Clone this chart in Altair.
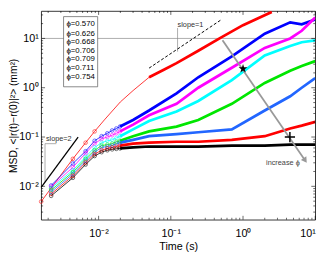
import altair as alt
import pandas as pd

# ---------------- data ----------------
T = [0.0022, 0.0044, 0.0066, 0.0088, 0.011, 0.0132, 0.0154, 0.0176, 0.0198,
     0.03, 0.05, 0.12, 0.24, 0.7, 2, 4.5, 6.5, 10]
T_TOP = [0.0016, 0.0022, 0.0044, 0.0066, 0.0088, 0.012, 0.02, 0.03, 0.05,
         0.08, 0.12, 0.24, 0.5, 1, 2.5]

MSD_RED_TOP = [0.0049, 0.0092, 0.0361, 0.0767, 0.130, 0.222, 0.515, 0.876, 1.63,
               2.32, 3.16, 5.62, 10.5, 18.6, 34.5]
MSD_BLUE = [0.0104, 0.029, 0.0515, 0.0838, 0.104, 0.119, 0.136, 0.149, 0.163,
            0.222, 0.345, 0.767, 1.63, 4.31, 12.5, 21.2, 19.4, 24.3]
MSD_MAGENTA = [0.0098, 0.0243, 0.0471, 0.0733, 0.0916, 0.100, 0.109, 0.119, 0.130,
               0.178, 0.277, 0.471, 1.0, 2.54, 6.42, 10.0, 14.3, 26.5]
MSD_CYAN = [0.0092, 0.0212, 0.0394, 0.0614, 0.0767, 0.0838, 0.0876, 0.0957, 0.104,
            0.143, 0.212, 0.330, 0.538, 1.43, 4.51, 7.02, 8.38, 9.15]
MSD_GREEN = [0.0084, 0.0194, 0.0361, 0.0538, 0.0671, 0.0701, 0.0733, 0.0802, 0.0838,
             0.104, 0.130, 0.163, 0.222, 0.471, 1.25, 2.22, 2.77, 3.46]
MSD_LBLUE = [0.0077, 0.0178, 0.0330, 0.0493, 0.0614, 0.0642, 0.0671, 0.0733, 0.0767,
             0.0876, 0.104, 0.114, 0.125, 0.143, 0.345, 0.672, 1.0, 1.56]
MSD_RED_LOW = [0.0070, 0.0163, 0.0303, 0.0451, 0.0538, 0.0588, 0.0614, 0.0642, 0.0671,
               0.0733, 0.0767, 0.0802, 0.0802, 0.0876, 0.104, 0.149, 0.170, 0.203]
MSD_BLACK = [0.0064, 0.0149, 0.0277, 0.0412, 0.0493, 0.0538, 0.0562, 0.0575, 0.0588,
             0.0614, 0.0642, 0.0642, 0.0642, 0.0671, 0.0671, 0.0701, 0.0701, 0.0701]

SERIES = ["s1", "s2", "s3", "s4", "s5", "s6", "s7", "s8"]
COLORS = ["#ff0000", "#0000ff", "#ff00ff", "#00ffff", "#00e600", "#2266ff", "#ff0000", "#000000"]

PHI_LABELS = ["ϕ=0.570", "ϕ=0.626", "ϕ=0.668", "ϕ=0.706", "ϕ=0.709", "ϕ=0.711", "ϕ=0.754"]

# annotation anchors (data coordinates)
SLOPE2_T = [0.0016, 0.0052]
SLOPE2_M = [0.0095, 0.10]
SLOPE1_T = [0.05, 0.5]
SLOPE1_M = [2.5, 24.0]
ARROW_T = [0.52, 7.26]
ARROW_M = [9.2, 0.0335]
STAR_T, STAR_M = 1.0, 2.43
PLUS_T, PLUS_M = 4.46, 0.1

# ---------------- table ----------------
curves = [(SERIES[0], T_TOP, MSD_RED_TOP, 0.05, 0.0088)]
for name, vals in zip(SERIES[1:], [MSD_BLUE, MSD_MAGENTA, MSD_CYAN, MSD_GREEN,
                                    MSD_LBLUE, MSD_RED_LOW, MSD_BLACK]):
    curves.append((name, T, vals, 0.0198, 0.0198))
rows = []
for name, ts, ms, thick_from, mark_to in curves:
    for t, m in zip(ts, ms):
        rows.append({"series": name, "t": t, "msd": m,
                     "thick": t >= thick_from, "marker": t <= mark_to})
df = pd.DataFrame(rows)

W, H = 281, 214
xscale = alt.Scale(type="log", domain=[0.0016, 10], nice=False)
yscale = alt.Scale(type="log", domain=[0.0021, 36], nice=False)
cscale = alt.Scale(domain=SERIES, range=COLORS)

FONT = "Liberation Sans"
SUP = "datum.value < 0.05 ? '10⁻²' : datum.value < 0.5 ? '10⁻¹' : datum.value < 5 ? '10⁰' : '10¹'"
xaxis = alt.Axis(values=[0.01, 0.1, 1, 10], labelExpr=SUP, ticks=False, domain=False,
                 grid=False, title="Time (s)", labelPadding=8, titlePadding=3)
yaxis = alt.Axis(values=[0.01, 0.1, 1, 10], labelExpr=SUP, ticks=False, domain=False,
                 grid=False, title="MSD, <|r(t)−r(0)|²> (mm²)", labelPadding=3,
                 titleX=-23, titleY=H / 2, titleAngle=-90, titleAlign="center",
                 titleBaseline="bottom", titleFontSize=10.5)

X = alt.X("t:Q", scale=xscale, axis=xaxis)
Y = alt.Y("msd:Q", scale=yscale, axis=yaxis)
C = alt.Color("series:N", scale=cscale, legend=None)

base = alt.Chart(df)
thin = base.mark_line(strokeWidth=0.8, clip=True).encode(x=X, y=Y, color=C, detail="series:N", order="t:Q")
thick = base.transform_filter("datum.thick").mark_line(strokeWidth=2.8, clip=True).encode(
    x=X, y=Y, color=C, detail="series:N", order="t:Q")
pts = base.transform_filter("datum.marker").mark_point(filled=False, size=14, strokeWidth=0.8).encode(
    x=X, y=Y, color=C)

# ticks (inside, on all four sides)
XMAJ = [0.01, 0.1, 1, 10]
XMIN = [k * d for d in [0.001, 0.01, 0.1, 1] for k in range(2, 10) if 0.0016 <= k * d <= 10]
YMAJ = [0.01, 0.1, 1, 10]
YMIN = [k * d for d in [0.001, 0.01, 0.1, 1, 10] for k in range(2, 10) if 0.0021 <= k * d <= 36]


def xticks(vals, L):
    d = pd.DataFrame({"t": vals})
    b = alt.Chart(d).mark_rule(color="black", strokeWidth=0.6)
    return [b.encode(x=X, y=alt.value(H), y2=alt.value(H - L)),
            b.encode(x=X, y=alt.value(0), y2=alt.value(L))]


def yticks(vals, L):
    d = pd.DataFrame({"msd": vals})
    b = alt.Chart(d).mark_rule(color="black", strokeWidth=0.6)
    return [b.encode(y=Y, x=alt.value(0), x2=alt.value(L)),
            b.encode(y=Y, x=alt.value(W), x2=alt.value(W - L))]


tick_layers = xticks(XMAJ, 4) + xticks(XMIN, 2) + yticks(YMAJ, 4) + yticks(YMIN, 2)

GRAY = "#888888"
hline = alt.Chart(pd.DataFrame({"t": [0.0016], "t2": [10], "msd": [10]})).mark_rule(
    color=GRAY, strokeWidth=0.7).encode(x=X, x2="t2:Q", y=Y)
s1_brk = alt.Chart(pd.DataFrame({"t": [0.124], "msd": [16.3], "m2": [5.4]})).mark_rule(
    color=GRAY, strokeWidth=0.7).encode(x=X, y=Y, y2="m2:Q")
s2_brk_v = alt.Chart(pd.DataFrame({"t": [0.00181], "msd": [0.0733], "m2": [0.0119]})).mark_rule(
    color=GRAY, strokeWidth=0.7).encode(x=X, y=Y, y2="m2:Q")
s2_brk_h = alt.Chart(pd.DataFrame({"t": [0.00181], "t2": [0.0026], "msd": [0.0733]})).mark_rule(
    color=GRAY, strokeWidth=0.7).encode(x=X, x2="t2:Q", y=Y)

slope2 = alt.Chart(pd.DataFrame({"t": SLOPE2_T, "msd": SLOPE2_M})).mark_line(
    color="black", strokeWidth=1.3).encode(x=X, y=Y)
slope1 = alt.Chart(pd.DataFrame({"t": SLOPE1_T, "msd": SLOPE1_M})).mark_line(
    color="black", strokeWidth=1, strokeDash=[3, 2]).encode(x=X, y=Y)

arrow = alt.Chart(pd.DataFrame({"t": ARROW_T, "msd": ARROW_M})).mark_line(
    color="#999999", strokeWidth=1.8).encode(x=X, y=Y)
arrow_head = alt.Chart(pd.DataFrame({"t": [ARROW_T[1]], "msd": [ARROW_M[1]]})).mark_point(
    shape="triangle-up", size=45, filled=True, color="#999999", angle=146, opacity=1).encode(x=X, y=Y)

STAR = ("M0,-1L0.223,-0.307L0.951,-0.309L0.361,0.117L0.588,0.809L0,0.38"
        "L-0.588,0.809L-0.361,0.117L-0.951,-0.309L-0.223,-0.307Z")
star = alt.Chart(pd.DataFrame({"t": [STAR_T], "msd": [STAR_M]})).mark_point(
    shape=STAR, size=90, filled=True, color="black", opacity=1).encode(x=X, y=Y)
plus = alt.Chart(pd.DataFrame({"t": [PLUS_T], "msd": [PLUS_M]})).mark_point(
    shape="M-1,0L1,0M0,-1L0,1", size=110, filled=False, color="black", strokeWidth=1.5,
    opacity=1).encode(x=X, y=Y)

inc_txt = alt.Chart(pd.DataFrame({"t": [6.1], "msd": [0.029], "s": ["increase  ϕ"]})).mark_text(
    align="right", baseline="middle", fontSize=7.5, color="#444444", font=FONT).encode(
    x=X, y=Y, text="s:N")
s1_txt = alt.Chart(pd.DataFrame({"t": [0.124], "msd": [18.6], "s": ["slope=1"]})).mark_text(
    align="left", baseline="middle", fontSize=7.5, color="#333333", font=FONT).encode(
    x=X, y=Y, text="s:N")
s2_txt = alt.Chart(pd.DataFrame({"t": [0.00186], "msd": [0.0916], "s": ["slope=2"]})).mark_text(
    align="left", baseline="middle", fontSize=7.5, color="#333333", font=FONT).encode(
    x=X, y=Y, text="s:N")

leg_box = alt.Chart(pd.DataFrame({"t": [0.00327], "t2": [0.0097], "msd": [27.7], "m2": [1.045]})).mark_rect(
    fill="white", stroke="#555555", strokeWidth=0.7).encode(x=X, x2="t2:Q", y=Y, y2="m2:Q")
LEG_M = [19.4, 12.5, 8.38, 5.62, 3.77, 2.54, 1.63]
leg_txt = alt.Chart(pd.DataFrame({"t": [0.00358] * 7, "msd": LEG_M, "s": PHI_LABELS})).mark_text(
    align="left", baseline="middle", fontSize=8, color="black", font=FONT).encode(
    x=X, y=Y, text="s:N")

chart = alt.layer(
    thin, hline, s1_brk, s2_brk_v, s2_brk_h, thick, pts, slope2, slope1,
    arrow, arrow_head, star, plus, inc_txt, s1_txt, s2_txt, leg_box, leg_txt,
    *tick_layers
).properties(
    width=W, height=H,
    autosize=alt.AutoSizeParams(type="none"),
    padding={"left": 34, "top": 0, "right": 9, "bottom": 30},
).configure_view(
    stroke="black", strokeWidth=0.8
).configure_axis(
    labelFont=FONT, labelFontSize=11, labelColor="black",
    titleFont=FONT, titleFontSize=11, titleFontWeight="normal", titleColor="black"
)

chart.save("out.html", embed_options={"renderer": "svg", "actions": False})
